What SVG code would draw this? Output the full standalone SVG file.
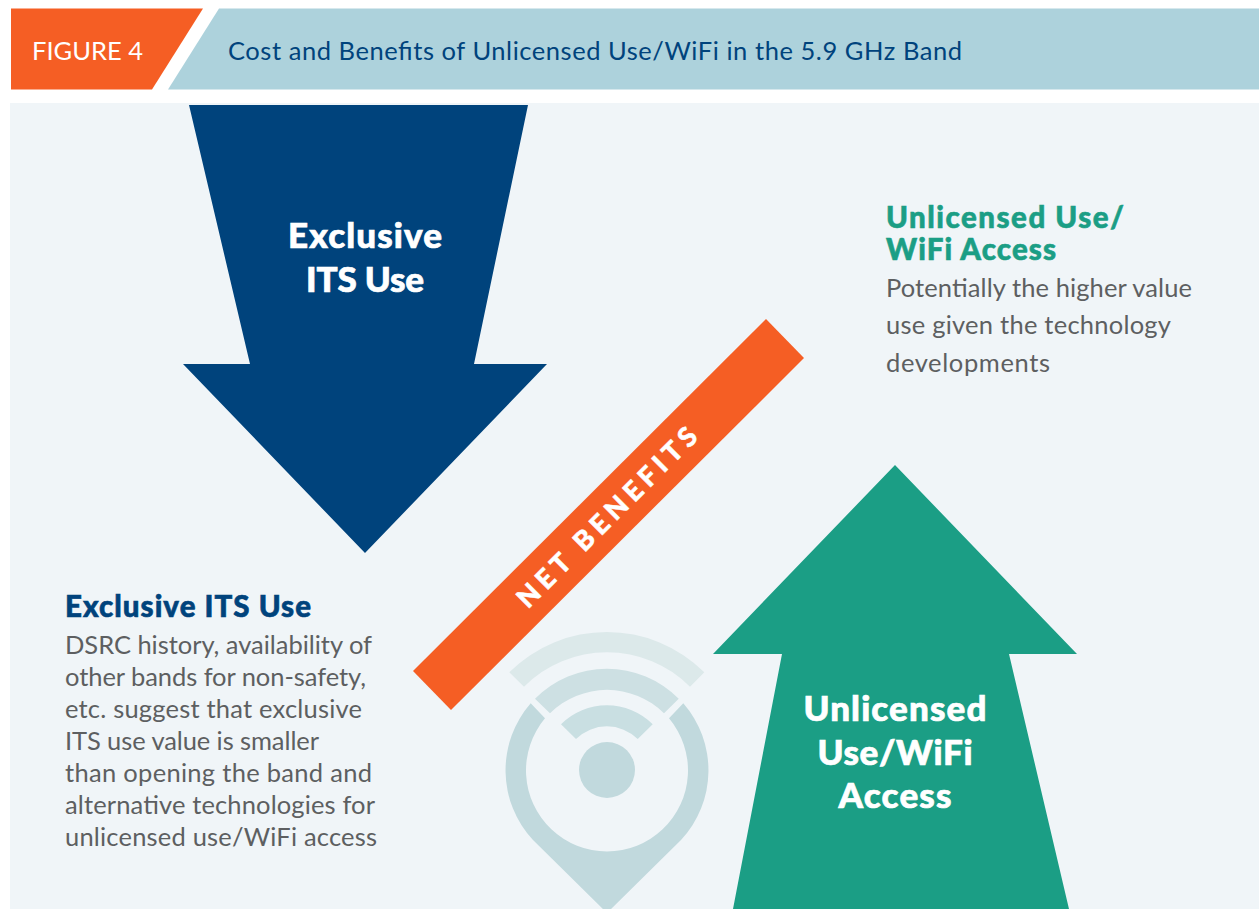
<svg xmlns="http://www.w3.org/2000/svg" width="1259" height="909" viewBox="0 0 1259 909">
<style>
text{font-family:Lato,"Open Sans","Liberation Sans",sans-serif}
.big{font-size:35px;font-weight:900;fill:#fff;stroke:#fff;stroke-width:.7px;text-anchor:middle}
.h{font-size:29.5px;font-weight:900;stroke-width:.6px}
.g{fill:#1b9e85;stroke:#1b9e85}
.n{fill:#00437c;stroke:#00437c}
.b{font-size:25.5px;fill:#5d5f61}
</style>
<rect width="1259" height="909" fill="#fff"/>
<rect x="10" y="103" width="1249" height="806" fill="#f0f5f8"/>
<polygon points="11,8.500 203,8.500 152,89.500 11,89.500" fill="#f55e24"/>
<polygon points="219,8.500 1259,8.500 1259,89.500 168,89.500" fill="#add2dc"/>
<text x="32" y="60" font-size="25.500" fill="#fff">FIGURE 4</text>
<text x="228" y="60" font-size="25.500" fill="#00437c" textLength="734">Cost and Benefits of Unlicensed Use/WiFi in the 5.9 GHz Band</text>
<g id="icon">
<path d="M509.300,672.300 A138,138 0 0 1 704.300,672.300 L690,686.700 A117,117 0 0 0 524,686.700Z" fill="#dce9ea"/>
<path d="M535,698.700 A101,101 0 0 1 678.700,698.700 L664,713.300 A81,81 0 0 0 550,713.300Z" fill="#cde0e3"/>
<path d="M561,724.300 A65,65 0 0 1 652.700,724.300 L637.700,739 A44,44 0 0 0 576,739Z" fill="#c9dfe2"/>
<circle cx="607" cy="770" r="28" fill="#c1d9dd"/>
<path d="M530.700,703.300 A102,102 0 0 0 533,840 L607,913 L681,840 A102,102 0 0 0 683.300,703.300 L669,718.300 A81,81 0 1 1 545,718.300Z" fill="#c1d9dd"/>
</g>
<g id="exclusive-arrow">
<polygon points="189,105 528,105 474,364 547,364 365,553 183,364 250,364" fill="#00437c"/>
<text class="big" x="365" y="248" textLength="154">Exclusive</text>
<text class="big" x="365" y="292" textLength="118">ITS Use</text>
</g>
<g id="unlicensed-arrow">
<polygon points="895,465 1077,654 1009,654 1069,909 733,909 782,654 713,654" fill="#1b9e85"/>
<text class="big" x="895" y="721" textLength="183">Unlicensed</text>
<text class="big" x="895" y="765" textLength="155">Use/WiFi</text>
<text class="big" x="895" y="808" textLength="113">Access</text>
</g>
<g id="net-benefits">
<polygon points="766,319 804,358 451,710 413,671" fill="#f55e24"/>
<text transform="translate(608.500,515) rotate(-45)" text-anchor="middle" y="10" font-size="27" font-weight="900" fill="#fff" stroke="#fff" stroke-width=".5" letter-spacing="5.400">NET BENEFITS</text>
</g>
<g id="unlicensed-text">
<text class="h g" x="886" y="228" textLength="238">Unlicensed Use/</text>
<text class="h g" x="886" y="260" textLength="170">WiFi Access</text>
<text class="b" x="886" y="297" textLength="306">Potentially the higher value</text>
<text class="b" x="886" y="334" textLength="285">use given the technology</text>
<text class="b" x="886" y="371.500" textLength="164">developments</text>
</g>
<g id="exclusive-text">
<text class="h n" x="65" y="617" textLength="246">Exclusive ITS Use</text>
<text class="b" x="65" y="654" textLength="307">DSRC history, availability of</text>
<text class="b" x="65" y="686" textLength="301">other bands for non-safety,</text>
<text class="b" x="65" y="718" textLength="297">etc. suggest that exclusive</text>
<text class="b" x="65" y="750" textLength="254">ITS use value is smaller</text>
<text class="b" x="65" y="782" textLength="307">than opening the band and</text>
<text class="b" x="65" y="814" textLength="310">alternative technologies for</text>
<text class="b" x="65" y="846" textLength="312">unlicensed use/WiFi access</text>
</g>
<g id="connectors"></g>
</svg>
